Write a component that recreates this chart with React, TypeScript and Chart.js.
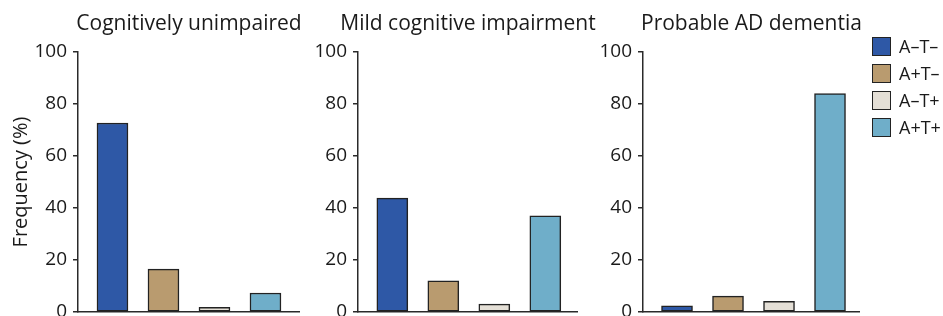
import React, { useEffect, useRef } from "react";
import { Chart, registerables } from "chart.js";

Chart.register(...registerables);

// ---- data ----
const CATEGORIES = ["A–T–", "A+T–", "A–T+", "A+T+"];
const PANEL_TITLES = ["Cognitively unimpaired", "Mild cognitive impairment", "Probable AD dementia"];
const CU_VALUES = [72.7, 16.5, 1.8, 7.3];
const MCI_VALUES = [43.8, 12.0, 3.0, 37.0];
const AD_VALUES = [2.4, 6.1, 4.1, 84.0];
const Y_TICKS = [0, 20, 40, 60, 80, 100];
const Y_TITLE = "Frequency (%)";

// ---- style ----
const COLORS = ["#2E58A6", "#B99B6F", "#E4DFD6", "#6FAEC9"];
const EDGE = "#222222";
const AXIS = "#2a2a2a";
const TEXT = "#1a1a1a";
const FONT = "'Open Sans', 'Noto Sans', sans-serif";

type Panel = {
  values: number[];
  title: string;
  left: number;
  width: number;
  yWidth: number;
  xMin: number;
  xMax: number;
  showYTitle: boolean;
};

const PANELS: Panel[] = [
  { values: CU_VALUES, title: PANEL_TITLES[0], left: 0, width: 300, yWidth: 78, xMin: -0.676, xMax: 3.677, showYTitle: true },
  { values: MCI_VALUES, title: PANEL_TITLES[1], left: 310, width: 268, yWidth: 48, xMin: -0.673, xMax: 3.641, showYTitle: false },
  { values: AD_VALUES, title: PANEL_TITLES[2], left: 595, width: 265, yWidth: 48, xMin: -0.667, xMax: 3.588, showYTitle: false },
];

const CANVAS_H = 340;
const AREA_TOP = 52;
const AREA_BOTTOM = 312;

function PanelChart({ p }: { p: Panel }) {
  const ref = useRef<HTMLCanvasElement | null>(null);
  useEffect(() => {
    if (!ref.current) return;
    const chart = new Chart(ref.current, {
      type: "bar",
      data: {
        datasets: [
          {
            data: p.values.map((v, i) => ({ x: i, y: v })),
            backgroundColor: COLORS,
            borderColor: EDGE,
            borderWidth: 1.5,
            borderSkipped: false,
            barThickness: 31,
          },
        ],
      },
      options: {
        animation: false,
        responsive: false,
        maintainAspectRatio: false,
        devicePixelRatio: 1,
        layout: { padding: { top: AREA_TOP, bottom: CANVAS_H - AREA_BOTTOM, left: 0, right: 0 } },
        plugins: { legend: { display: false }, tooltip: { enabled: false }, title: { display: false } },
        scales: {
          x: {
            type: "linear",
            min: p.xMin,
            max: p.xMax,
            offset: false,
            ticks: { display: false },
            grid: { display: true, drawOnChartArea: false, drawTicks: false },
            border: { display: true, color: AXIS, width: 1.5 },
          },
          y: {
            min: 0,
            max: 100,
            afterBuildTicks: (scale: any) => {
              scale.ticks = Y_TICKS.map((v) => ({ value: v }));
            },
            afterFit: (scale: any) => {
              scale.width = p.yWidth;
            },
            ticks: {
              color: TEXT,
              padding: 6,
              font: { family: FONT, size: 19 },
            },
            grid: { display: true, drawOnChartArea: false, drawTicks: true, tickLength: 5, color: AXIS, lineWidth: 1.5 },
            border: { display: true, color: AXIS, width: 1.5 },
            title: {
              display: p.showYTitle,
              text: Y_TITLE,
              color: TEXT,
              font: { family: FONT, size: 20 },
              padding: { top: 9, bottom: 0 },
            },
          },
        },
      },
    } as any);
    return () => chart.destroy();
  }, [p]);
  return (
    <canvas
      ref={ref}
      width={p.width}
      height={CANVAS_H}
      style={{ position: "absolute", left: p.left, top: 0, width: p.width, height: CANVAS_H }}
    />
  );
}

export default function App() {
  return (
    <div
      style={{
        position: "fixed",
        left: 0,
        top: 0,
        width: 943,
        height: 316,
        overflow: "hidden",
        background: "#fff",
        fontFamily: FONT,
        color: TEXT,
      }}
    >
      {PANELS.map((p, i) => (
        <PanelChart key={i} p={p} />
      ))}
      {PANELS.map((p, i) => {
        const cx = p.left + p.yWidth + (p.width - p.yWidth) / 2;
        return (
          <div
            key={"t" + i}
            style={{
              position: "absolute",
              left: cx - 200,
              width: 400,
              top: 12,
              textAlign: "center",
              fontSize: 21,
              lineHeight: "21px",
              whiteSpace: "nowrap",
            }}
          >
            {p.title}
          </div>
        );
      })}
      {CATEGORIES.map((c, i) => (
        <div
          key={"l" + i}
          style={{ position: "absolute", left: 872, top: 36.5 + i * 27.3, height: 19, display: "flex", alignItems: "center" }}
        >
          <div
            style={{
              width: 19,
              height: 19,
              boxSizing: "border-box",
              background: COLORS[i],
              border: `1.5px solid ${EDGE}`,
            }}
          />
          <span style={{ marginLeft: 8, fontSize: 18, lineHeight: "19px", whiteSpace: "nowrap" }}>{c}</span>
        </div>
      ))}
    </div>
  );
}
